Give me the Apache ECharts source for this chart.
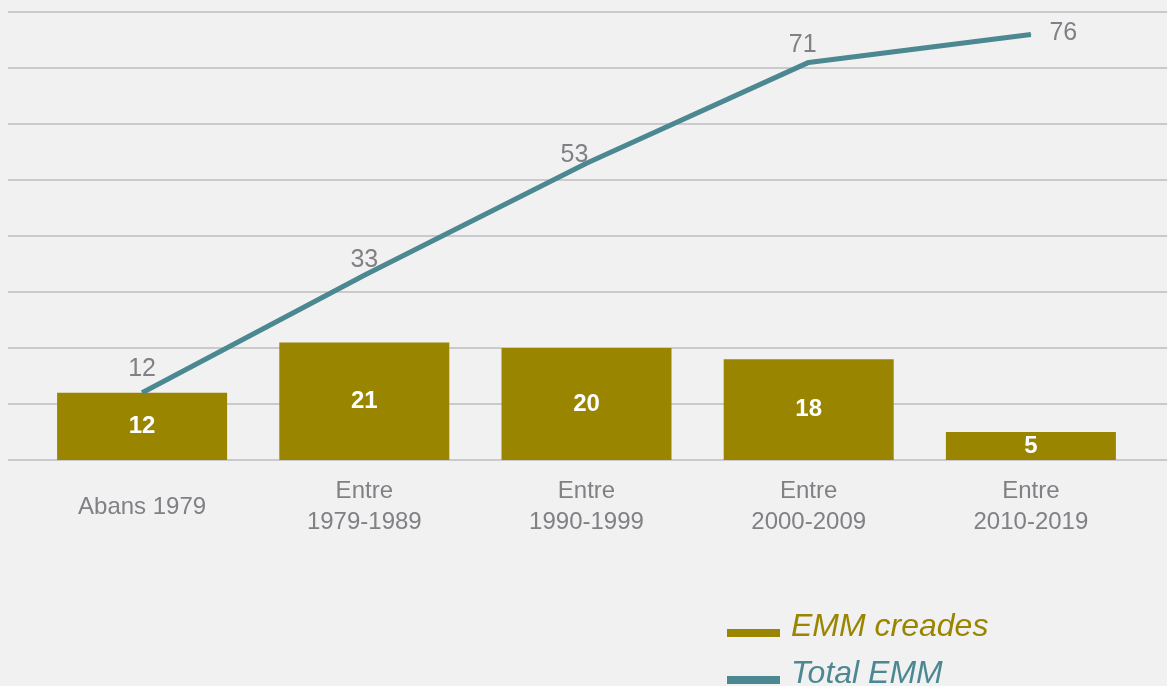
<!DOCTYPE html>
<html>
<head>
<meta charset="utf-8">
<style>
  html, body { margin: 0; padding: 0; background: #f1f1f1; }
  #chart { width: 1167px; height: 686px; }
</style>
<script src="https://cdn.jsdelivr.net/npm/echarts@6/dist/echarts.min.js"></script>
</head>
<body>
<div id="chart"></div>
<script>
// Periods and series values
const periods = ['Abans 1979', 'Entre\n1979-1989', 'Entre\n1990-1999', 'Entre\n2000-2009', 'Entre\n2010-2019'];
const emmCreades = [12, 21, 20, 18, 5];
const totalEmm = [12, 33, 53, 71, 76];

const OLIVE = '#9a8500';
const TEAL = '#4c8891';
const GREY = '#808085';
const FONT = 'Liberation Sans, Arial, Helvetica, sans-serif';

// Label placement for the cumulative line (first point sits a bit higher, last one to the right)
const lineLabelTweaks = [
  { distance: 11 },
  { distance: 2 },
  { distance: 5, offset: [-12, 10] },
  { distance: 4, offset: [-6, 0] },
  { position: 'right', distance: 18, offset: [0, -1] }
];

// Legend text: large italic, sitting slightly above its swatch
const legendText = (color) => ({
  color: color, fontFamily: FONT, fontSize: 32, fontStyle: 'italic',
  lineHeight: 32, padding: [0, 0, 12, 6]
});

const chart = echarts.init(document.getElementById('chart'), null, { renderer: 'canvas' });

chart.setOption({
  backgroundColor: '#f1f1f1',
  animation: false,
  grid: [
    // background grid carrying the horizontal rules across the full width
    { left: 8, right: 0, top: 12, height: 448 },
    // plotting grid for bars and line
    { left: 31, right: 25, top: 12, height: 448 }
  ],
  xAxis: [
    { type: 'category', gridIndex: 0, data: periods, show: false },
    {
      type: 'category', gridIndex: 1, data: periods,
      axisLine: { show: false },
      axisTick: { show: false },
      axisLabel: {
        color: GREY, fontFamily: FONT, fontSize: 24, lineHeight: 31,
        verticalAlign: 'middle', margin: 47, interval: 0
      }
    }
  ],
  yAxis: [
    {
      type: 'value', gridIndex: 0, min: 0, max: 80, interval: 10,
      axisLabel: { show: false }, axisLine: { show: false }, axisTick: { show: false },
      splitLine: { show: true, lineStyle: { color: '#bcbcc0', width: 1.5 } }
    },
    {
      type: 'value', gridIndex: 1, min: 0, max: 80, interval: 10,
      show: false, splitLine: { show: false }
    }
  ],
  legend: {
    orient: 'vertical',
    left: 727,
    top: 611,
    height: 200,
    padding: 0,
    itemWidth: 53,
    itemHeight: 8,
    itemGap: 3,
    icon: 'rect',
    selectedMode: false,
    formatter: (name) => (name === 'EMM creades' ? '{o|' + name + '}' : '{t|' + name + '}'),
    textStyle: {
      fontFamily: FONT, fontSize: 32, fontStyle: 'italic',
      rich: { o: legendText(OLIVE), t: legendText(TEAL) }
    },
    data: ['EMM creades', 'Total EMM']
  },
  series: [
    {
      name: 'EMM creades',
      type: 'bar',
      xAxisIndex: 1, yAxisIndex: 1,
      data: emmCreades,
      barWidth: 170,
      itemStyle: { color: OLIVE },
      label: {
        show: true, position: 'inside', color: '#ffffff',
        fontFamily: FONT, fontSize: 24, fontWeight: 'bold'
      },
      z: 2
    },
    {
      name: 'Total EMM',
      type: 'line',
      xAxisIndex: 1, yAxisIndex: 1,
      data: totalEmm.map((v, i) => ({ value: v, label: lineLabelTweaks[i] })),
      showSymbol: true,
      symbol: 'circle',
      symbolSize: 1,
      lineStyle: { color: TEAL, width: 5 },
      itemStyle: { color: TEAL },
      label: {
        show: true, position: 'top', color: GREY,
        fontFamily: FONT, fontSize: 25
      },
      z: 3
    }
  ]
});
</script>
</body>
</html>
